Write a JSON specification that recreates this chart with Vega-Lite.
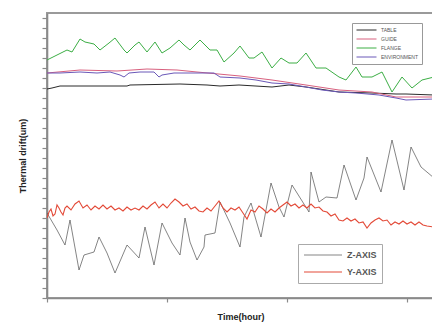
{
  "$schema": "https://vega.github.io/schema/vega-lite/v6.json",
  "width": 387,
  "height": 285,
  "autosize": {"type": "none"},
  "padding": {"left": 47, "top": 13, "right": 0, "bottom": 30},
  "config": {
    "view": {"stroke": "#9a9a9a", "strokeWidth": 2},
    "font": "Liberation Sans",
    "axis": {"domainColor": "#8a8a8a", "domainWidth": 1.6, "tickColor": "#8a8a8a", "tickWidth": 1.2, "labels": false, "grid": false, "titleFontWeight": "bold", "titleFontSize": 9, "titleColor": "#222"}
  },
  "datasets": {
    "top": [
      {"series": "FLANGE", "time": 0, "drift": 23.8}, {"series": "FLANGE", "time": 5, "drift": 24.3}, {"series": "FLANGE", "time": 10, "drift": 24.8}, {"series": "FLANGE", "time": 12.5, "drift": 24.6}, {"series": "FLANGE", "time": 16.5, "drift": 25.9}, {"series": "FLANGE", "time": 19, "drift": 25.6}, {"series": "FLANGE", "time": 23.5, "drift": 25.4}, {"series": "FLANGE", "time": 26.5, "drift": 24.8}, {"series": "FLANGE", "time": 31, "drift": 25.5}, {"series": "FLANGE", "time": 34, "drift": 26.0}, {"series": "FLANGE", "time": 38.5, "drift": 24.8}, {"series": "FLANGE", "time": 40, "drift": 24.5}, {"series": "FLANGE", "time": 44, "drift": 25.3}, {"series": "FLANGE", "time": 46, "drift": 25.6}, {"series": "FLANGE", "time": 50, "drift": 24.6}, {"series": "FLANGE", "time": 54, "drift": 25.6}, {"series": "FLANGE", "time": 57.5, "drift": 24.5}, {"series": "FLANGE", "time": 61.5, "drift": 25.0}, {"series": "FLANGE", "time": 66, "drift": 25.8}, {"series": "FLANGE", "time": 68.5, "drift": 25.3}, {"series": "FLANGE", "time": 71.5, "drift": 24.8}, {"series": "FLANGE", "time": 76.5, "drift": 25.8}, {"series": "FLANGE", "time": 81.5, "drift": 24.8}, {"series": "FLANGE", "time": 85, "drift": 24.8}, {"series": "FLANGE", "time": 88.5, "drift": 23.6}, {"series": "FLANGE", "time": 93.5, "drift": 24.5}, {"series": "FLANGE", "time": 96.5, "drift": 25.2}, {"series": "FLANGE", "time": 101, "drift": 24.0}, {"series": "FLANGE", "time": 103.5, "drift": 24.0}, {"series": "FLANGE", "time": 107.5, "drift": 24.6}, {"series": "FLANGE", "time": 112.5, "drift": 23.0}, {"series": "FLANGE", "time": 117, "drift": 24.0}, {"series": "FLANGE", "time": 121, "drift": 23.5}, {"series": "FLANGE", "time": 125, "drift": 23.5}, {"series": "FLANGE", "time": 129.5, "drift": 24.5}, {"series": "FLANGE", "time": 134.5, "drift": 23.0}, {"series": "FLANGE", "time": 139.5, "drift": 23.0}, {"series": "FLANGE", "time": 146, "drift": 22.1}, {"series": "FLANGE", "time": 149.5, "drift": 21.8}, {"series": "FLANGE", "time": 154.5, "drift": 23.1}, {"series": "FLANGE", "time": 157.5, "drift": 22.1}, {"series": "FLANGE", "time": 162.5, "drift": 22.1}, {"series": "FLANGE", "time": 167.5, "drift": 22.6}, {"series": "FLANGE", "time": 172.5, "drift": 20.6}, {"series": "FLANGE", "time": 177.5, "drift": 22.1}, {"series": "FLANGE", "time": 182.5, "drift": 21.0}, {"series": "FLANGE", "time": 187.5, "drift": 21.8}, {"series": "FLANGE", "time": 193.5, "drift": 22.1},
      {"series": "TABLE", "time": 0, "drift": 20.9}, {"series": "TABLE", "time": 2.5, "drift": 21.0}, {"series": "TABLE", "time": 6.5, "drift": 21.2}, {"series": "TABLE", "time": 16.5, "drift": 21.2}, {"series": "TABLE", "time": 40, "drift": 21.2}, {"series": "TABLE", "time": 41.5, "drift": 21.3}, {"series": "TABLE", "time": 66.5, "drift": 21.4}, {"series": "TABLE", "time": 80, "drift": 21.3}, {"series": "TABLE", "time": 86.5, "drift": 21.2}, {"series": "TABLE", "time": 96, "drift": 21.3}, {"series": "TABLE", "time": 112.5, "drift": 21.1}, {"series": "TABLE", "time": 121, "drift": 21.3}, {"series": "TABLE", "time": 129.5, "drift": 21.1}, {"series": "TABLE", "time": 139.5, "drift": 20.8}, {"series": "TABLE", "time": 146, "drift": 20.6}, {"series": "TABLE", "time": 162.5, "drift": 20.5}, {"series": "TABLE", "time": 174.5, "drift": 20.4}, {"series": "TABLE", "time": 179.5, "drift": 20.4}, {"series": "TABLE", "time": 193.5, "drift": 20.3},
      {"series": "GUIDE", "time": 0, "drift": 22.5}, {"series": "GUIDE", "time": 16.5, "drift": 22.8}, {"series": "GUIDE", "time": 35, "drift": 22.7}, {"series": "GUIDE", "time": 50, "drift": 22.9}, {"series": "GUIDE", "time": 65, "drift": 22.8}, {"series": "GUIDE", "time": 75, "drift": 22.6}, {"series": "GUIDE", "time": 96.5, "drift": 22.2}, {"series": "GUIDE", "time": 112.5, "drift": 21.8}, {"series": "GUIDE", "time": 129.5, "drift": 21.3}, {"series": "GUIDE", "time": 146, "drift": 20.8}, {"series": "GUIDE", "time": 162.5, "drift": 20.6}, {"series": "GUIDE", "time": 174.5, "drift": 20.1}, {"series": "GUIDE", "time": 193.5, "drift": 20.1},
      {"series": "ENVIRONMENT", "time": 0, "drift": 22.5}, {"series": "ENVIRONMENT", "time": 6.5, "drift": 22.5}, {"series": "ENVIRONMENT", "time": 16.5, "drift": 22.6}, {"series": "ENVIRONMENT", "time": 25, "drift": 22.5}, {"series": "ENVIRONMENT", "time": 31.5, "drift": 22.6}, {"series": "ENVIRONMENT", "time": 36.5, "drift": 22.3}, {"series": "ENVIRONMENT", "time": 38.5, "drift": 22.1}, {"series": "ENVIRONMENT", "time": 41, "drift": 22.5}, {"series": "ENVIRONMENT", "time": 46.5, "drift": 22.6}, {"series": "ENVIRONMENT", "time": 53.5, "drift": 22.6}, {"series": "ENVIRONMENT", "time": 56, "drift": 22.1}, {"series": "ENVIRONMENT", "time": 57.5, "drift": 22.3}, {"series": "ENVIRONMENT", "time": 63.5, "drift": 22.5}, {"series": "ENVIRONMENT", "time": 75, "drift": 22.5}, {"series": "ENVIRONMENT", "time": 83.5, "drift": 22.5}, {"series": "ENVIRONMENT", "time": 86.5, "drift": 22.1}, {"series": "ENVIRONMENT", "time": 96.5, "drift": 22.0}, {"series": "ENVIRONMENT", "time": 104.5, "drift": 21.8}, {"series": "ENVIRONMENT", "time": 112.5, "drift": 21.5}, {"series": "ENVIRONMENT", "time": 121, "drift": 21.4}, {"series": "ENVIRONMENT", "time": 129.5, "drift": 21.1}, {"series": "ENVIRONMENT", "time": 137.5, "drift": 20.8}, {"series": "ENVIRONMENT", "time": 146, "drift": 20.6}, {"series": "ENVIRONMENT", "time": 154.5, "drift": 20.5}, {"series": "ENVIRONMENT", "time": 166, "drift": 20.3}, {"series": "ENVIRONMENT", "time": 174.5, "drift": 20.0}, {"series": "ENVIRONMENT", "time": 179.5, "drift": 19.8}, {"series": "ENVIRONMENT", "time": 193.5, "drift": 19.9}
    ],
    "axes": [
      {"axis": "Z-AXIS", "time": 0, "drift": 8.5}, {"axis": "Z-AXIS", "time": 5, "drift": 6.8}, {"axis": "Z-AXIS", "time": 9, "drift": 5.3}, {"axis": "Z-AXIS", "time": 11.5, "drift": 7.8}, {"axis": "Z-AXIS", "time": 16, "drift": 2.8}, {"axis": "Z-AXIS", "time": 18.5, "drift": 4.3}, {"axis": "Z-AXIS", "time": 23.5, "drift": 4.6}, {"axis": "Z-AXIS", "time": 26, "drift": 6.1}, {"axis": "Z-AXIS", "time": 30, "drift": 4.5}, {"axis": "Z-AXIS", "time": 34, "drift": 2.5}, {"axis": "Z-AXIS", "time": 40, "drift": 5.3}, {"axis": "Z-AXIS", "time": 46, "drift": 4.0}, {"axis": "Z-AXIS", "time": 49, "drift": 7.1}, {"axis": "Z-AXIS", "time": 53.5, "drift": 3.3}, {"axis": "Z-AXIS", "time": 57.5, "drift": 7.5}, {"axis": "Z-AXIS", "time": 62.5, "drift": 5.5}, {"axis": "Z-AXIS", "time": 66.5, "drift": 4.3}, {"axis": "Z-AXIS", "time": 69, "drift": 8.0}, {"axis": "Z-AXIS", "time": 71.5, "drift": 5.6}, {"axis": "Z-AXIS", "time": 75, "drift": 3.8}, {"axis": "Z-AXIS", "time": 78.5, "drift": 5.1}, {"axis": "Z-AXIS", "time": 79, "drift": 6.3}, {"axis": "Z-AXIS", "time": 84, "drift": 6.5}, {"axis": "Z-AXIS", "time": 86.5, "drift": 9.6}, {"axis": "Z-AXIS", "time": 91.5, "drift": 7.5}, {"axis": "Z-AXIS", "time": 96.5, "drift": 5.1}, {"axis": "Z-AXIS", "time": 98.5, "drift": 8.1}, {"axis": "Z-AXIS", "time": 102, "drift": 9.5}, {"axis": "Z-AXIS", "time": 107, "drift": 6.1}, {"axis": "Z-AXIS", "time": 112, "drift": 11.5}, {"axis": "Z-AXIS", "time": 116, "drift": 9.1}, {"axis": "Z-AXIS", "time": 118.5, "drift": 8.1}, {"axis": "Z-AXIS", "time": 122.5, "drift": 11.3}, {"axis": "Z-AXIS", "time": 131, "drift": 8.6}, {"axis": "Z-AXIS", "time": 132, "drift": 12.6}, {"axis": "Z-AXIS", "time": 136, "drift": 9.6}, {"axis": "Z-AXIS", "time": 139.5, "drift": 10.1}, {"axis": "Z-AXIS", "time": 145, "drift": 10.0}, {"axis": "Z-AXIS", "time": 148.5, "drift": 13.3}, {"axis": "Z-AXIS", "time": 154.5, "drift": 9.8}, {"axis": "Z-AXIS", "time": 158.5, "drift": 12.0}, {"axis": "Z-AXIS", "time": 160, "drift": 14.1}, {"axis": "Z-AXIS", "time": 167, "drift": 10.6}, {"axis": "Z-AXIS", "time": 172.5, "drift": 15.8}, {"axis": "Z-AXIS", "time": 178.5, "drift": 10.8}, {"axis": "Z-AXIS", "time": 182, "drift": 15.1}, {"axis": "Z-AXIS", "time": 187, "drift": 13.1}, {"axis": "Z-AXIS", "time": 193.5, "drift": 12.0},
      {"axis": "Y-AXIS", "time": 0, "drift": 8.0}, {"axis": "Y-AXIS", "time": 1, "drift": 8.6}, {"axis": "Y-AXIS", "time": 2, "drift": 8.9}, {"axis": "Y-AXIS", "time": 3, "drift": 8.2}, {"axis": "Y-AXIS", "time": 4, "drift": 8.4}, {"axis": "Y-AXIS", "time": 5, "drift": 9.3}, {"axis": "Y-AXIS", "time": 6, "drift": 9.0}, {"axis": "Y-AXIS", "time": 7, "drift": 8.6}, {"axis": "Y-AXIS", "time": 8, "drift": 8.3}, {"axis": "Y-AXIS", "time": 9, "drift": 9.0}, {"axis": "Y-AXIS", "time": 10, "drift": 9.2}, {"axis": "Y-AXIS", "time": 12, "drift": 8.8}, {"axis": "Y-AXIS", "time": 14, "drift": 9.4}, {"axis": "Y-AXIS", "time": 16, "drift": 9.7}, {"axis": "Y-AXIS", "time": 18, "drift": 9.0}, {"axis": "Y-AXIS", "time": 20, "drift": 9.3}, {"axis": "Y-AXIS", "time": 22, "drift": 8.8}, {"axis": "Y-AXIS", "time": 24, "drift": 9.2}, {"axis": "Y-AXIS", "time": 26, "drift": 8.9}, {"axis": "Y-AXIS", "time": 28, "drift": 9.3}, {"axis": "Y-AXIS", "time": 30, "drift": 8.9}, {"axis": "Y-AXIS", "time": 32, "drift": 9.2}, {"axis": "Y-AXIS", "time": 34, "drift": 8.8}, {"axis": "Y-AXIS", "time": 36, "drift": 9.0}, {"axis": "Y-AXIS", "time": 38, "drift": 8.7}, {"axis": "Y-AXIS", "time": 40, "drift": 9.1}, {"axis": "Y-AXIS", "time": 42, "drift": 8.8}, {"axis": "Y-AXIS", "time": 44, "drift": 9.0}, {"axis": "Y-AXIS", "time": 46, "drift": 8.8}, {"axis": "Y-AXIS", "time": 48, "drift": 9.2}, {"axis": "Y-AXIS", "time": 50, "drift": 8.9}, {"axis": "Y-AXIS", "time": 52, "drift": 9.3}, {"axis": "Y-AXIS", "time": 54, "drift": 9.6}, {"axis": "Y-AXIS", "time": 56, "drift": 9.0}, {"axis": "Y-AXIS", "time": 58, "drift": 9.4}, {"axis": "Y-AXIS", "time": 60, "drift": 9.0}, {"axis": "Y-AXIS", "time": 62, "drift": 9.5}, {"axis": "Y-AXIS", "time": 64, "drift": 9.9}, {"axis": "Y-AXIS", "time": 66, "drift": 9.6}, {"axis": "Y-AXIS", "time": 68, "drift": 9.2}, {"axis": "Y-AXIS", "time": 70, "drift": 9.4}, {"axis": "Y-AXIS", "time": 72, "drift": 8.9}, {"axis": "Y-AXIS", "time": 74, "drift": 9.1}, {"axis": "Y-AXIS", "time": 76, "drift": 8.7}, {"axis": "Y-AXIS", "time": 78, "drift": 8.6}, {"axis": "Y-AXIS", "time": 80, "drift": 9.0}, {"axis": "Y-AXIS", "time": 82, "drift": 8.7}, {"axis": "Y-AXIS", "time": 84, "drift": 9.2}, {"axis": "Y-AXIS", "time": 86, "drift": 9.7}, {"axis": "Y-AXIS", "time": 88, "drift": 9.0}, {"axis": "Y-AXIS", "time": 90, "drift": 8.6}, {"axis": "Y-AXIS", "time": 92, "drift": 9.0}, {"axis": "Y-AXIS", "time": 94, "drift": 8.8}, {"axis": "Y-AXIS", "time": 96, "drift": 9.1}, {"axis": "Y-AXIS", "time": 98, "drift": 8.5}, {"axis": "Y-AXIS", "time": 100, "drift": 7.9}, {"axis": "Y-AXIS", "time": 102, "drift": 8.8}, {"axis": "Y-AXIS", "time": 104, "drift": 8.6}, {"axis": "Y-AXIS", "time": 106, "drift": 9.2}, {"axis": "Y-AXIS", "time": 108, "drift": 8.9}, {"axis": "Y-AXIS", "time": 110, "drift": 8.5}, {"axis": "Y-AXIS", "time": 112, "drift": 8.9}, {"axis": "Y-AXIS", "time": 114, "drift": 8.6}, {"axis": "Y-AXIS", "time": 116, "drift": 9.0}, {"axis": "Y-AXIS", "time": 118, "drift": 9.3}, {"axis": "Y-AXIS", "time": 120, "drift": 9.6}, {"axis": "Y-AXIS", "time": 122, "drift": 9.2}, {"axis": "Y-AXIS", "time": 124, "drift": 9.4}, {"axis": "Y-AXIS", "time": 126, "drift": 9.0}, {"axis": "Y-AXIS", "time": 128, "drift": 9.3}, {"axis": "Y-AXIS", "time": 130, "drift": 9.0}, {"axis": "Y-AXIS", "time": 132, "drift": 9.4}, {"axis": "Y-AXIS", "time": 134, "drift": 9.0}, {"axis": "Y-AXIS", "time": 136, "drift": 9.1}, {"axis": "Y-AXIS", "time": 138, "drift": 8.7}, {"axis": "Y-AXIS", "time": 140, "drift": 8.6}, {"axis": "Y-AXIS", "time": 142, "drift": 8.2}, {"axis": "Y-AXIS", "time": 144, "drift": 8.4}, {"axis": "Y-AXIS", "time": 146, "drift": 7.8}, {"axis": "Y-AXIS", "time": 148, "drift": 7.7}, {"axis": "Y-AXIS", "time": 150, "drift": 8.0}, {"axis": "Y-AXIS", "time": 152, "drift": 7.7}, {"axis": "Y-AXIS", "time": 154, "drift": 7.9}, {"axis": "Y-AXIS", "time": 156, "drift": 7.5}, {"axis": "Y-AXIS", "time": 158, "drift": 7.6}, {"axis": "Y-AXIS", "time": 160, "drift": 7.0}, {"axis": "Y-AXIS", "time": 162, "drift": 7.5}, {"axis": "Y-AXIS", "time": 164, "drift": 7.8}, {"axis": "Y-AXIS", "time": 166, "drift": 8.0}, {"axis": "Y-AXIS", "time": 168, "drift": 7.7}, {"axis": "Y-AXIS", "time": 170, "drift": 7.8}, {"axis": "Y-AXIS", "time": 172, "drift": 7.3}, {"axis": "Y-AXIS", "time": 174, "drift": 7.6}, {"axis": "Y-AXIS", "time": 176, "drift": 7.4}, {"axis": "Y-AXIS", "time": 178, "drift": 7.7}, {"axis": "Y-AXIS", "time": 180, "drift": 7.4}, {"axis": "Y-AXIS", "time": 182, "drift": 7.6}, {"axis": "Y-AXIS", "time": 184, "drift": 7.3}, {"axis": "Y-AXIS", "time": 186, "drift": 7.6}, {"axis": "Y-AXIS", "time": 188, "drift": 7.3}, {"axis": "Y-AXIS", "time": 190, "drift": 7.2}, {"axis": "Y-AXIS", "time": 193.5, "drift": 7.1}
    ]
  },
  "resolve": {"scale": {"color": "independent", "strokeWidth": "independent"}},
  "layer": [
    {
      "data": {"name": "top"},
      "mark": {"type": "line", "strokeWidth": 1, "clip": true},
      "encoding": {
        "x": {"field": "time", "type": "quantitative", "scale": {"domain": [0, 193.5], "nice": false}, "axis": {"title": "Time(hour)", "values": [0, 60, 120, 180], "tickCount": 4, "tickSize": 4, "titlePadding": 10}},
        "y": {"field": "drift", "type": "quantitative", "scale": {"domain": [0, 28.5], "nice": false}, "axis": {"title": "Thermal drift(um)", "values": [0,1,2,3,4,5,6,7,8,9,10,11,12,13,14,15,16,17,18,19,20,21,22,23,24,25,26,27,28], "tickCount": 30, "tickSize": 5, "titlePadding": 14}},
        "color": {"field": "series", "type": "nominal", "scale": {"domain": ["TABLE", "GUIDE", "FLANGE", "ENVIRONMENT"], "range": ["#2a2a2a", "#d8607e", "#3cae45", "#6a58b8"]},
          "legend": {"orient": "none", "legendX": 305, "legendY": 10, "title": null, "symbolType": "stroke", "symbolSize": 400, "symbolStrokeWidth": 1, "labelFontSize": 5, "labelColor": "#555", "strokeColor": "#999", "padding": 4, "rowPadding": 3, "clipHeight": 6, "labelOffset": 4}}
      }
    },
    {
      "data": {"name": "axes"},
      "mark": {"type": "line", "clip": true},
      "encoding": {
        "x": {"field": "time", "type": "quantitative"},
        "y": {"field": "drift", "type": "quantitative"},
        "color": {"field": "axis", "type": "nominal", "scale": {"domain": ["Z-AXIS", "Y-AXIS"], "range": ["#505050", "#e34a38"]},
          "legend": {"orient": "none", "legendX": 251, "legendY": 231, "title": null, "symbolType": "stroke", "symbolSize": 1444, "symbolStrokeWidth": 1, "labelFontSize": 9, "labelFontWeight": "bold", "labelColor": "#555", "strokeColor": "#aaa", "padding": 5, "rowPadding": 5, "clipHeight": 12, "labelOffset": 4}},
        "strokeWidth": {"field": "axis", "type": "nominal", "scale": {"domain": ["Z-AXIS", "Y-AXIS"], "range": [0.7, 1.1]}, "legend": null}
      }
    }
  ]
}
